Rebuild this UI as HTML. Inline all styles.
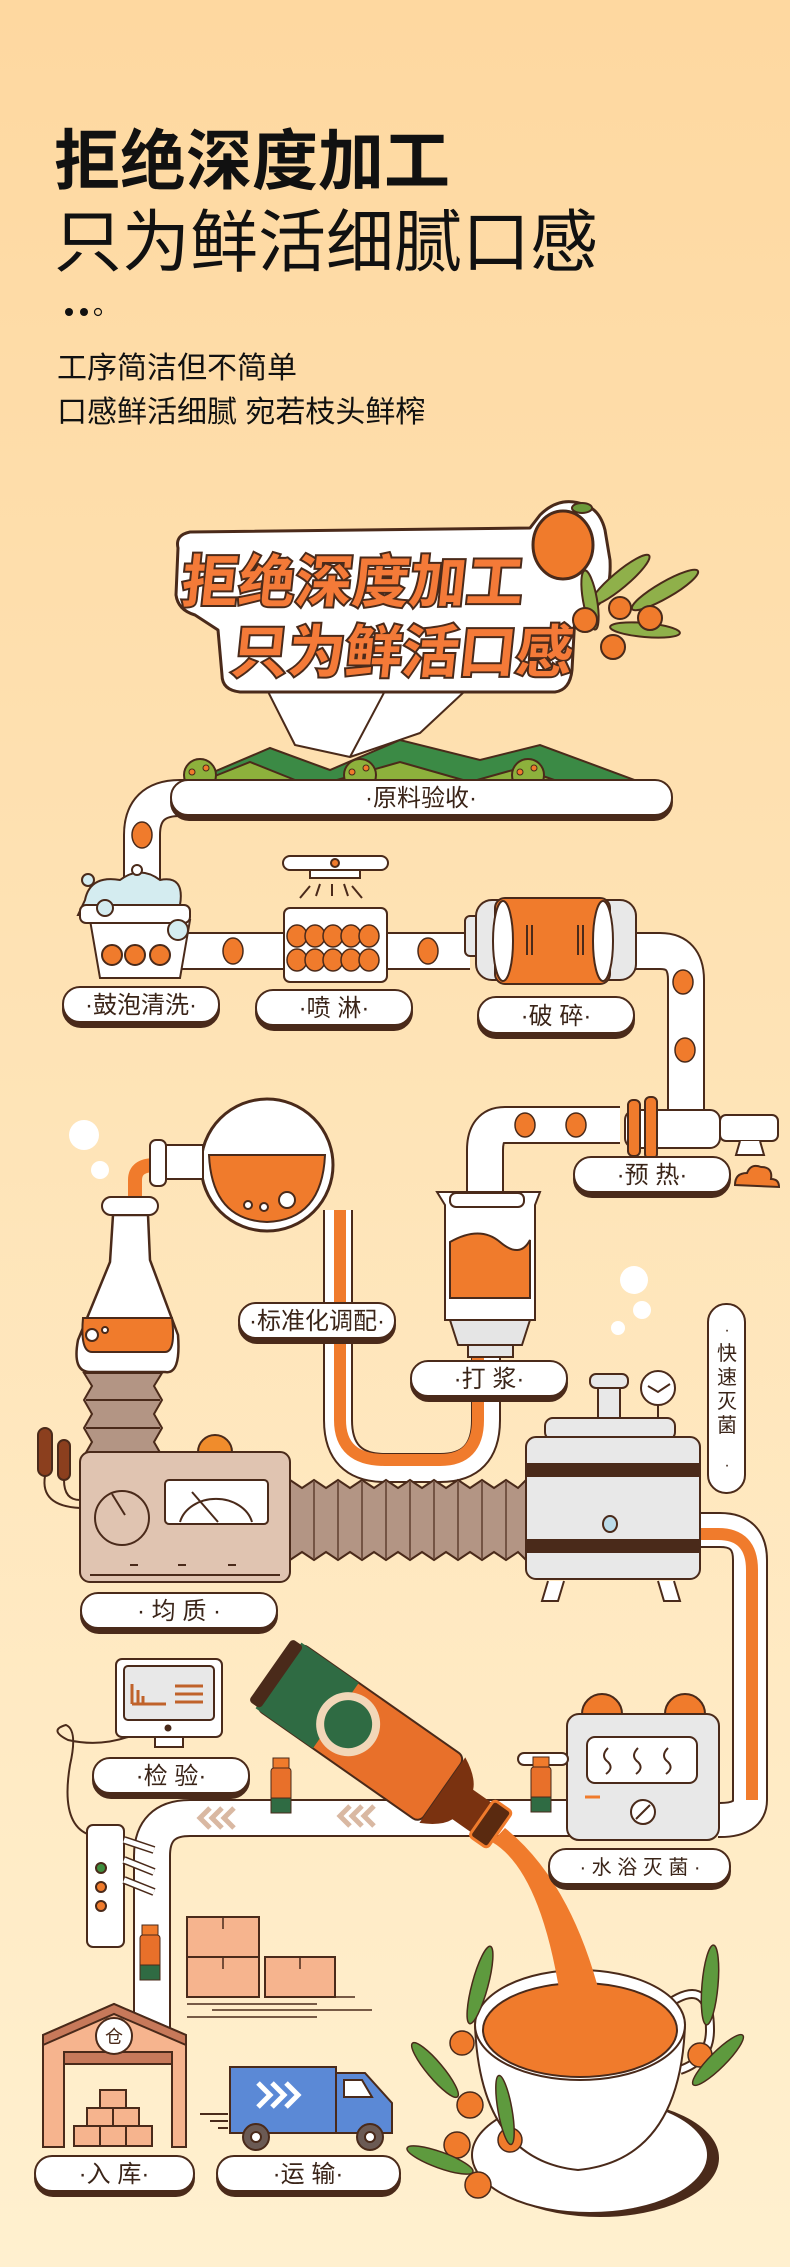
<!DOCTYPE html>
<html><head><meta charset="utf-8">
<style>
html,body{margin:0;padding:0;}
body{width:790px;height:2267px;overflow:hidden;background:linear-gradient(#fed9a0 0%,#fee0ab 40%,#fff0cf 100%);}
svg{display:block;}
text{font-family:"Liberation Sans","Noto Sans CJK SC",sans-serif;}
</style></head><body>
<svg width="790" height="2267" viewBox="0 0 790 2267" xmlns="http://www.w3.org/2000/svg">
<defs>
<linearGradient id="bg" x1="0" y1="0" x2="0" y2="1"><stop offset="0" stop-color="#fed8a0"/><stop offset="1" stop-color="#fff0cf"/></linearGradient>
</defs>
<rect width="790" height="2267" fill="url(#bg)"/>
<g fill="#111">
<text x="54" y="184" font-size="66" font-weight="bold">拒绝深度加工</text>
<text x="54" y="266" font-size="68">只为鲜活细腻口感</text>
<circle cx="69" cy="312" r="4"/><circle cx="84" cy="312" r="4"/><circle cx="98" cy="312" r="3.5" fill="none" stroke="#111" stroke-width="1.2"/>
<text x="57" y="378" font-size="30">工序简洁但不简单</text>
<text x="57" y="422" font-size="30">口感鲜活细腻 宛若枝头鲜榨</text>
</g>
<g stroke="#4a2a1a" stroke-width="2" stroke-linejoin="round">
<!-- beam -->
<polygon points="252,660 495,663 420,733 350,757 295,745" fill="#fff"/>
<line x1="396" y1="670" x2="350" y2="757"/>
<!-- badge -->
<path d="M178,548 Q175,535 190,532 L530,528 L540,515 Q560,495 585,505 Q600,510 605,530 L610,560 Q612,600 590,610 L575,615 L572,670 Q570,690 555,692 L240,692 Q222,690 222,675 L218,630 L195,615 Q178,610 176,595 Z" fill="#fff" stroke-width="3"/>
<!-- branch -->
<g fill="#8fb04a">
<ellipse cx="620" cy="580" rx="38" ry="8" transform="rotate(-40 620 580)"/>
<ellipse cx="665" cy="590" rx="38" ry="8" transform="rotate(-30 665 590)"/>
<ellipse cx="645" cy="630" rx="35" ry="7" transform="rotate(5 645 630)"/>
<ellipse cx="590" cy="600" rx="30" ry="7" transform="rotate(80 590 600)"/>
</g>
<g fill="#f07b2c"><circle cx="585" cy="620" r="12"/><circle cx="620" cy="608" r="11"/><circle cx="650" cy="618" r="12"/><circle cx="613" cy="647" r="12"/></g>
<ellipse cx="563" cy="545" rx="30" ry="34" fill="#f07b2c" stroke-width="3"/>
<ellipse cx="582" cy="508" rx="10" ry="5" fill="#6b9a3a"/>
</g>
<g font-weight="bold" fill="#f47a38" stroke="#4a2a1a" stroke-width="4" paint-order="stroke">
<text x="243" y="602" font-size="57" transform="skewX(-6)">拒绝深度加工</text>
<text x="300" y="672" font-size="57" transform="skewX(-6)">只为鲜活口感</text>
</g>
<!-- hills -->
<g stroke="#4a2a1a" stroke-width="2">
<path d="M190,782 L270,748 L330,770 L400,740 L480,760 L540,745 L640,782 Z" fill="#3b8a45"/>
<path d="M200,782 L250,762 L300,782 Z M330,782 L400,762 L470,782 Z M470,782 L520,768 L560,782Z" fill="#8db13c"/>
<g fill="#8db13c"><circle cx="200" cy="775" r="16"/><circle cx="360" cy="775" r="16"/><circle cx="528" cy="775" r="16"/></g>
<g fill="#f07b2c" stroke-width="1"><circle cx="192" cy="772" r="3"/><circle cx="206" cy="768" r="3"/><circle cx="352" cy="772" r="3"/><circle cx="366" cy="768" r="3"/><circle cx="520" cy="772" r="3"/><circle cx="534" cy="768" r="3"/></g>
</g>
<!-- pipes white -->
<g fill="none" stroke="#4a2a1a" stroke-width="38">
<path d="M142,890 L142,835 Q142,798 180,798 L300,798"/>
<path d="M180,951 L470,951"/>
<path d="M630,951 L660,951 Q686,951 686,980 L686,1110"/>
<path d="M620,1125 L505,1125 Q485,1125 485,1150 L485,1200"/>
</g>
<g fill="none" stroke="#fff" stroke-width="34">
<path d="M142,890 L142,835 Q142,798 180,798 L300,798"/>
<path d="M180,951 L470,951"/>
<path d="M630,951 L660,951 Q686,951 686,980 L686,1110"/>
<path d="M620,1125 L505,1125 Q485,1125 485,1150 L485,1200"/>
</g>
<!-- orange U tube -->
<path d="M338,1210 L338,1420 Q338,1468 385,1468 L440,1468 Q486,1468 486,1420 L486,1340" fill="none" stroke="#4a2a1a" stroke-width="30"/>
<path d="M338,1210 L338,1420 Q338,1468 385,1468 L440,1468 Q486,1468 486,1420 L486,1340" fill="none" stroke="#fff" stroke-width="26"/>
<path d="M340,1210 L340,1420 Q340,1460 385,1460 L440,1460 Q478,1460 478,1420 L478,1340" fill="none" stroke="#f07b2c" stroke-width="12"/>
<path d="M135,1210 L135,1180 Q135,1165 155,1165 L175,1165" fill="none" stroke="#f07b2c" stroke-width="14"/>
<!-- right orange pipe -->
<path d="M700,1530 L720,1530 Q750,1530 750,1560 L750,1800 Q750,1820 720,1820 L718,1820" fill="none" stroke="#4a2a1a" stroke-width="36"/>
<path d="M700,1530 L720,1530 Q750,1530 750,1560 L750,1800 Q750,1820 720,1820 L718,1820" fill="none" stroke="#fff" stroke-width="32"/>
<path d="M700,1534 L718,1534 Q752,1534 752,1570 L752,1800" fill="none" stroke="#f07b2c" stroke-width="12"/>
<!-- conveyor -->
<path d="M570,1818 L190,1818 Q152,1818 152,1856 L152,2030" fill="none" stroke="#4a2a1a" stroke-width="38"/>
<path d="M570,1818 L190,1818 Q152,1818 152,1856 L152,2030" fill="none" stroke="#fff" stroke-width="34"/>
<g fill="none" stroke="#d9b8a2" stroke-width="5"><path d="M210,1808 l-10,10 l10,10 M222,1808 l-10,10 l10,10 M234,1808 l-10,10 l10,10 M350,1806 l-10,10 l10,10 M362,1806 l-10,10 l10,10 M374,1806 l-10,10 l10,10"/></g>
<!-- fruits on pipes -->
<g fill="#f07b2c" stroke="#4a2a1a" stroke-width="1.5">
<ellipse cx="142" cy="835" rx="10" ry="13"/>
<ellipse cx="233" cy="951" rx="10" ry="13"/>
<ellipse cx="428" cy="951" rx="10" ry="13"/>
<ellipse cx="683" cy="982" rx="10" ry="12"/>
<ellipse cx="685" cy="1050" rx="10" ry="12"/>
<ellipse cx="525" cy="1125" rx="10" ry="12"/>
<ellipse cx="576" cy="1125" rx="10" ry="12"/>
</g>
<g stroke="#4a2a1a" stroke-width="2">
<!-- wash basin -->
<path d="M90,920 L190,920 L180,978 L100,978 Z" fill="#fff"/>
<g fill="#f07b2c"><circle cx="112" cy="955" r="10"/><circle cx="135" cy="955" r="10"/><circle cx="160" cy="955" r="10"/></g>
<path d="M85,900 Q90,875 120,880 Q140,865 160,880 Q185,875 180,905 L185,915 L78,915 Z" fill="#d4ecf0"/>
<rect x="80" y="905" width="110" height="18" rx="6" fill="#fff"/>
<circle cx="105" cy="908" r="8" fill="#d4ecf0"/><circle cx="178" cy="930" r="10" fill="#d4ecf0"/>
<circle cx="88" cy="880" r="6" fill="#d4ecf0"/><circle cx="137" cy="870" r="5" fill="#fff"/>
<!-- spray -->
<rect x="283" y="856" width="105" height="14" rx="7" fill="#fff"/>
<circle cx="335" cy="863" r="4" fill="#f07b2c"/>
<rect x="310" y="870" width="50" height="8" fill="#fff"/>
<path d="M300,898 l10,-12 M316,896 l4,-12 M332,896 l0,-12 M348,896 l-4,-12 M362,898 l-10,-12" fill="none"/>
<rect x="284" y="908" width="103" height="74" rx="6" fill="#fff"/>
<g fill="#f07b2c" stroke-width="1.5">
<ellipse cx="297" cy="936" rx="10" ry="11"/><ellipse cx="315" cy="936" rx="10" ry="11"/><ellipse cx="333" cy="936" rx="10" ry="11"/><ellipse cx="351" cy="936" rx="10" ry="11"/><ellipse cx="369" cy="936" rx="10" ry="11"/>
<ellipse cx="297" cy="960" rx="10" ry="11"/><ellipse cx="315" cy="960" rx="10" ry="11"/><ellipse cx="333" cy="960" rx="10" ry="11"/><ellipse cx="351" cy="960" rx="10" ry="11"/><ellipse cx="369" cy="960" rx="10" ry="11"/>
</g>
<!-- crusher -->
<rect x="465" y="916" width="20" height="40" rx="5" fill="#e8e8e8"/>
<rect x="476" y="900" width="160" height="80" rx="16" fill="#e8e8e8"/>
<rect x="495" y="898" width="115" height="86" rx="10" fill="#f07b2c"/>
<ellipse cx="503" cy="941" rx="10" ry="40" fill="#fff"/><ellipse cx="603" cy="941" rx="10" ry="40" fill="#fff"/>
<path d="M527,925 v30 M532,925 v30 M578,925 v30 M583,925 v30" fill="none"/>
<!-- preheat -->
<rect x="625" y="1110" width="95" height="38" rx="10" fill="#fff"/>
<rect x="628" y="1100" width="12" height="56" rx="5" fill="#f07b2c"/>
<rect x="645" y="1097" width="12" height="62" rx="5" fill="#f07b2c"/>
<rect x="720" y="1115" width="58" height="26" rx="6" fill="#fff"/>
<path d="M740,1141 l-4,14 h28 l-4,-14" fill="#fff"/>
<path d="M735,1185 q0,-12 12,-12 q4,-10 14,-6 q12,0 10,12 q8,0 8,8 Z" fill="#f07b2c"/>
<!-- beaker -->
<path d="M437,1192 L540,1192 L535,1205 L535,1320 L445,1320 L445,1205 Z" fill="#fff"/>
<rect x="450" y="1193" width="74" height="14" rx="6" fill="#fff"/>
<path d="M450,1242 Q480,1225 500,1242 T530,1240 L530,1298 L450,1298 Z" fill="#f07b2c"/>
<path d="M450,1320 L530,1320 L522,1345 L458,1345 Z" fill="#e5e5e5"/>
<rect x="468" y="1345" width="45" height="12" fill="#e5e5e5"/>
<!-- round flask -->
<circle cx="267" cy="1165" r="66" fill="#fff" stroke-width="3"/>
<path d="M209,1155 L325,1155 Q322,1220 267,1222 Q212,1220 209,1155 Z" fill="#f07b2c"/>
<circle cx="287" cy="1200" r="8" fill="#fff"/><circle cx="264" cy="1207" r="4" fill="#fff"/><circle cx="248" cy="1205" r="4" fill="#fff"/>
<rect x="165" y="1145" width="38" height="34" fill="#fff"/>
<rect x="150" y="1140" width="16" height="46" rx="6" fill="#fff"/>
<!-- erlenmeyer -->
<circle cx="84" cy="1135" r="15" fill="#fff" stroke="none"/><circle cx="100" cy="1170" r="9" fill="#fff" stroke="none"/>
<path d="M113,1215 L148,1215 L150,1260 L178,1335 Q181,1375 165,1372 L90,1372 Q72,1372 78,1340 L110,1262 Z" fill="#fff" stroke-width="2.5"/>
<rect x="102" y="1197" width="56" height="18" rx="9" fill="#fff"/>
<path d="M83,1318 L172,1318 Q176,1352 165,1352 L92,1352 Q80,1352 83,1318 Z" fill="#f07b2c"/>
<circle cx="92" cy="1335" r="6" fill="#fff"/><circle cx="105" cy="1330" r="3" fill="#fff"/>
<!-- vertical bellows -->
<path d="M84,1373 L162,1373 L154,1386 L162,1400 L154,1414 L162,1428 L154,1442 L162,1456 L154,1470 L162,1484 L84,1484 L92,1470 L84,1456 L92,1442 L84,1428 L92,1414 L84,1400 L92,1386 Z" fill="#b39584"/>
<path d="M86,1400 H160 M86,1428 H160 M86,1456 H160" fill="none"/>
<!-- cattails -->
<rect x="38" y="1428" width="14" height="48" rx="7" fill="#8b3f1e"/><rect x="58" y="1440" width="12" height="40" rx="6" fill="#8b3f1e"/>
<path d="M45,1476 q-5,30 35,32 M64,1480 q0,20 16,20" fill="none"/>
<path d="M198,1452 a17,17 0 0 1 34,0 Z" fill="#f08c2c"/>
<!-- homogenizer -->
<rect x="80" y="1452" width="210" height="130" rx="10" fill="#e0c4b1"/>
<circle cx="122" cy="1518" r="27" fill="none"/>
<line x1="112" y1="1494" x2="125" y2="1515"/>
<rect x="165" y="1480" width="103" height="44" rx="4" fill="#fff"/>
<path d="M180,1522 a37,30 0 0 1 72,0" fill="none"/>
<line x1="192" y1="1492" x2="218" y2="1522"/>
<path d="M90,1575 H280 M130,1565 h8 M178,1565 h8 M228,1565 h8" fill="none"/>
<!-- horizontal bellows -->
<path d="M290,1480 L302,1488 L314,1480 L326,1488 L338,1480 L350,1488 L362,1480 L374,1488 L386,1480 L398,1488 L410,1480 L422,1488 L434,1480 L446,1488 L458,1480 L470,1488 L482,1480 L494,1488 L506,1480 L518,1488 L526,1480 L526,1560 L518,1552 L506,1560 L494,1552 L482,1560 L470,1552 L458,1560 L446,1552 L434,1560 L422,1552 L410,1560 L398,1552 L386,1560 L374,1552 L362,1560 L350,1552 L338,1560 L326,1552 L314,1560 L302,1552 L290,1560 Z" fill="#b39584"/>
<path d="M314,1482 V1558 M338,1482 V1558 M362,1482 V1558 M386,1482 V1558 M410,1482 V1558 M434,1482 V1558 M458,1482 V1558 M482,1482 V1558 M506,1482 V1558" fill="none" stroke-width="1.2"/>
<!-- sterilizer -->
<circle cx="634" cy="1280" r="14" fill="#fff" stroke="none"/><circle cx="642" cy="1310" r="9" fill="#fff" stroke="none"/><circle cx="618" cy="1328" r="7" fill="#fff" stroke="none"/>
<rect x="598" y="1383" width="22" height="35" fill="#e8e8e8"/>
<rect x="590" y="1374" width="38" height="14" rx="6" fill="#e8e8e8"/>
<circle cx="658" cy="1388" r="17" fill="#fff"/>
<path d="M648,1386 l10,6 l12,-8" fill="none"/>
<line x1="658" y1="1405" x2="658" y2="1418"/>
<rect x="545" y="1418" width="130" height="22" rx="8" fill="#e8e8e8"/>
<rect x="526" y="1437" width="174" height="142" rx="10" fill="#e8e8e8"/>
<rect x="526" y="1464" width="174" height="12" fill="#4a2a1a"/>
<rect x="526" y="1540" width="174" height="12" fill="#4a2a1a"/>
<ellipse cx="610" cy="1524" rx="7" ry="8" fill="#bcdcea"/>
<path d="M548,1581 l-6,20 h16 l6,-20 M658,1581 l6,20 h16 l-6,-20" fill="#fff"/>
<rect x="708" y="1304" width="37" height="189" rx="18" fill="#fff" stroke-width="2"/>
<!-- water bath -->
<path d="M582,1714 a20,20 0 0 1 40,0 Z M665,1714 a20,20 0 0 1 40,0 Z" fill="#f07b2c"/>
<rect x="567" y="1714" width="152" height="126" rx="12" fill="#e8e8e8"/>
<rect x="587" y="1737" width="110" height="46" rx="8" fill="#fff"/>
<path d="M608,1748 q-8,8 0,14 q6,6 -2,12 M638,1748 q-8,8 0,14 q6,6 -2,12 M668,1748 q-8,8 0,14 q6,6 -2,12" fill="none"/>
<circle cx="643" cy="1812" r="12" fill="#fff"/><line x1="636" y1="1819" x2="650" y2="1805"/>
<line x1="585" y1="1797" x2="600" y2="1797" stroke="#f07b2c" stroke-width="3"/>
<rect x="518" y="1753" width="50" height="12" rx="6" fill="#fff"/>
<!-- monitor -->
<rect x="116" y="1659" width="106" height="78" rx="6" fill="#fff"/>
<rect x="124" y="1666" width="90" height="54" rx="4" fill="#e8e8e8"/>
<circle cx="168" cy="1728" r="2.5" fill="#4a2a1a"/>
<path d="M155,1737 h28 v10 h-28 z" fill="#fff"/>
<path d="M132,1704 v-20 M138,1704 v-14 M143,1704 v-8 M132,1704 h34 M175,1686 h28 M175,1694 h28 M175,1702 h28" fill="none" stroke="#c0622a" stroke-width="3"/>
<path d="M128,1737 q-30,10 -60,3 q-20,-10 -2,-15 q12,5 4,40 q-10,60 20,70 L88,1840" fill="none"/>
<!-- switch box -->
<rect x="87" y="1825" width="37" height="122" rx="6" fill="#fff"/>
<path d="M124,1840 l30,10 M124,1860 l30,12 M124,1880 l30,12" fill="none" stroke-width="8"/>
<path d="M124,1840 l30,10 M124,1860 l30,12 M124,1880 l30,12" fill="none" stroke="#fff" stroke-width="5"/>
<circle cx="101" cy="1868" r="5" fill="#3e8e3e"/><circle cx="101" cy="1887" r="5" fill="#f07b2c"/><circle cx="101" cy="1906" r="5" fill="#f07b2c"/>
<!-- boxes -->
<rect x="187" y="1917" width="72" height="40" fill="#f6b48e"/><rect x="187" y="1957" width="72" height="40" fill="#f6b48e"/><rect x="265" y="1957" width="70" height="40" fill="#f6b48e"/>
<path d="M223,1917 v12 M223,1957 v12 M300,1957 v12 M335,1997 h20 M187,2004 h130 M212,2010 h160 M187,2017 h130" fill="none" stroke-width="1.5"/>
<!-- warehouse -->
<path d="M43,2035 L114,2004 L186,2035 L186,2147 L172,2147 L172,2062 L64,2062 L64,2147 L43,2147 Z" fill="#f6b48e"/>
<path d="M43,2035 L114,2004 L186,2035 L186,2045 L114,2014 L43,2045 Z" fill="#c7795a"/>
<rect x="64" y="2052" width="108" height="12" fill="#c7795a"/>
<circle cx="114" cy="2036" r="18" fill="#fff"/>
<g fill="#f6b48e"><rect x="100" y="2090" width="26" height="18"/><rect x="87" y="2108" width="26" height="18"/><rect x="113" y="2108" width="26" height="18"/><rect x="74" y="2126" width="26" height="20"/><rect x="100" y="2126" width="26" height="20"/><rect x="126" y="2126" width="26" height="20"/></g>
<!-- truck -->
<rect x="230" y="2067" width="106" height="66" fill="#5b89d6"/>
<path d="M336,2073 L365,2073 L392,2103 L392,2133 L336,2133 Z" fill="#5b89d6"/>
<path d="M344,2080 L362,2080 L372,2097 L344,2097 Z" fill="#fff"/>
<path d="M258,2083 l12,12 l-12,12 M272,2083 l12,12 l-12,12 M286,2083 l12,12 l-12,12" fill="none" stroke="#fff" stroke-width="5"/>
<circle cx="256" cy="2137" r="13" fill="#6b5a54"/><circle cx="256" cy="2137" r="5" fill="#fff"/>
<circle cx="370" cy="2137" r="13" fill="#6b5a54"/><circle cx="370" cy="2137" r="5" fill="#fff"/>
<path d="M200,2114 h28 M210,2121 h18 M218,2128 h10" fill="none"/>
</g>
<text x="114" y="2043" font-size="18" text-anchor="middle" fill="#4a2a1a">仓</text>
<!-- cup -->
<g stroke="#4a2a1a" stroke-width="2">
<ellipse cx="600" cy="2158" rx="118" ry="58" fill="#4a2a1a"/>
<ellipse cx="590" cy="2155" rx="118" ry="58" fill="#fff"/>
<path d="M660,2010 q50,-40 50,20 q0,30 -30,40" fill="none" stroke-width="10"/>
<path d="M660,2010 q50,-40 50,20 q0,30 -30,40" fill="none" stroke="#fff" stroke-width="6"/>
<path d="M475,2025 Q480,2160 578,2170 Q680,2160 685,2025 Z" fill="#fff"/>
<ellipse cx="580" cy="2025" rx="105" ry="55" fill="#fff"/>
<ellipse cx="580" cy="2030" rx="97" ry="47" fill="#f07b2c"/>
<path d="M492,1842 Q540,1870 560,1995 L600,1995 Q570,1880 505,1828 Z" fill="#f07b2c" stroke="none"/>
</g>
<g fill="#f07b2c" stroke="#4a2a1a" stroke-width="1.5">
<circle cx="462" cy="2043" r="12"/><circle cx="470" cy="2105" r="13"/><circle cx="457" cy="2145" r="13"/><circle cx="510" cy="2140" r="12"/><circle cx="478" cy="2185" r="13"/><circle cx="700" cy="2055" r="12"/>
</g>
<g fill="#5e9a3e" stroke="#4a2a1a" stroke-width="1.5">
<ellipse cx="480" cy="1985" rx="8" ry="40" transform="rotate(15 480 1985)"/>
<ellipse cx="435" cy="2070" rx="8" ry="35" transform="rotate(-40 435 2070)"/>
<ellipse cx="440" cy="2160" rx="8" ry="35" transform="rotate(-70 440 2160)"/>
<ellipse cx="505" cy="2110" rx="7" ry="35" transform="rotate(-10 505 2110)"/>
<ellipse cx="710" cy="1985" rx="8" ry="40" transform="rotate(5 710 1985)"/>
<ellipse cx="718" cy="2060" rx="8" ry="35" transform="rotate(45 718 2060)"/>
</g>
<!-- big bottle -->
<g transform="translate(385,1750) rotate(35)">
<rect x="-130" y="-40" width="200" height="80" rx="8" fill="#e8702a" stroke="#4a2a1a" stroke-width="2"/>
<rect x="-130" y="-40" width="70" height="80" fill="#2f6b43"/>
<rect x="-140" y="-38" width="14" height="76" rx="4" fill="#4a2a1a"/>
<circle cx="-45" cy="0" r="32" fill="#f2d7b8"/><circle cx="-45" cy="0" r="24" fill="#2f6b43"/>
<path d="M70,-40 Q90,-30 95,-18 L120,-18 L120,18 L95,18 Q90,30 70,40 Z" fill="#7a3210"/>
<rect x="118" y="-22" width="22" height="44" rx="4" fill="#5a2a10" stroke="#f07b2c" stroke-width="3"/>
</g>
<!-- small bottles -->
<g stroke="#4a2a1a" stroke-width="1">
<rect x="273" y="1758" width="16" height="10" fill="#f07b2c"/><rect x="271" y="1768" width="20" height="45" rx="3" fill="#e8702a"/><rect x="271" y="1798" width="20" height="15" fill="#2f6b43"/>
<rect x="533" y="1757" width="16" height="10" fill="#f07b2c"/><rect x="531" y="1767" width="20" height="45" rx="3" fill="#e8702a"/><rect x="531" y="1797" width="20" height="15" fill="#2f6b43"/>
<rect x="142" y="1925" width="16" height="10" fill="#f07b2c"/><rect x="140" y="1935" width="20" height="45" rx="3" fill="#e8702a"/><rect x="140" y="1965" width="20" height="15" fill="#2f6b43"/>
</g>
<!-- labels -->
<g stroke="#4a2a1a" stroke-width="2">
<rect x="171" y="784" width="501" height="36" rx="18" fill="#4a2a1a"/><rect x="171" y="780" width="501" height="35" rx="17" fill="#fff"/>
<rect x="63" y="991" width="156" height="36" rx="18" fill="#4a2a1a"/><rect x="63" y="987" width="156" height="35" rx="17" fill="#fff"/>
<rect x="256" y="994" width="156" height="36" rx="18" fill="#4a2a1a"/><rect x="256" y="990" width="156" height="35" rx="17" fill="#fff"/>
<rect x="478" y="1001" width="156" height="37" rx="18" fill="#4a2a1a"/><rect x="478" y="997" width="156" height="36" rx="18" fill="#fff"/>
<rect x="574" y="1161" width="156" height="36" rx="18" fill="#4a2a1a"/><rect x="574" y="1157" width="156" height="35" rx="17" fill="#fff"/>
<rect x="239" y="1307" width="156" height="36" rx="18" fill="#4a2a1a"/><rect x="239" y="1303" width="156" height="35" rx="17" fill="#fff"/>
<rect x="411" y="1365" width="156" height="36" rx="18" fill="#4a2a1a"/><rect x="411" y="1361" width="156" height="35" rx="17" fill="#fff"/>
<rect x="81" y="1597" width="196" height="36" rx="18" fill="#4a2a1a"/><rect x="81" y="1593" width="196" height="35" rx="17" fill="#fff"/>
<rect x="93" y="1762" width="156" height="36" rx="18" fill="#4a2a1a"/><rect x="93" y="1758" width="156" height="35" rx="17" fill="#fff"/>
<rect x="549" y="1853" width="181" height="36" rx="18" fill="#4a2a1a"/><rect x="549" y="1849" width="181" height="35" rx="17" fill="#fff"/>
<rect x="35" y="2160" width="159" height="36" rx="18" fill="#4a2a1a"/><rect x="35" y="2156" width="159" height="35" rx="17" fill="#fff"/>
<rect x="217" y="2160" width="183" height="36" rx="18" fill="#4a2a1a"/><rect x="217" y="2156" width="183" height="35" rx="17" fill="#fff"/>
</g>
<g font-size="24" fill="#3a2418" text-anchor="middle">
<text x="421" y="806">·原料验收·</text>
<text x="141" y="1013">·鼓泡清洗·</text>
<text x="334" y="1016">·喷 淋·</text>
<text x="556" y="1024">·破 碎·</text>
<text x="652" y="1183">·预 热·</text>
<text x="317" y="1329">·标准化调配·</text>
<text x="489" y="1387">·打 浆·</text>
<text x="179" y="1619">·   均 质   ·</text>
<text x="171" y="1784">·检 验·</text>
<text x="640" y="1874" font-size="20">· 水 浴 灭 菌 ·</text>
<text x="114" y="2182">·入 库·</text>
<text x="308" y="2182">·运 输·</text>
<text x="727" y="1335" font-size="16">·</text>
<text x="727" y="1360" font-size="20">快</text>
<text x="727" y="1384" font-size="20">速</text>
<text x="727" y="1408" font-size="20">灭</text>
<text x="727" y="1432" font-size="20">菌</text>
<text x="727" y="1470" font-size="16">·</text>
</g>
</svg>
</body></html>
